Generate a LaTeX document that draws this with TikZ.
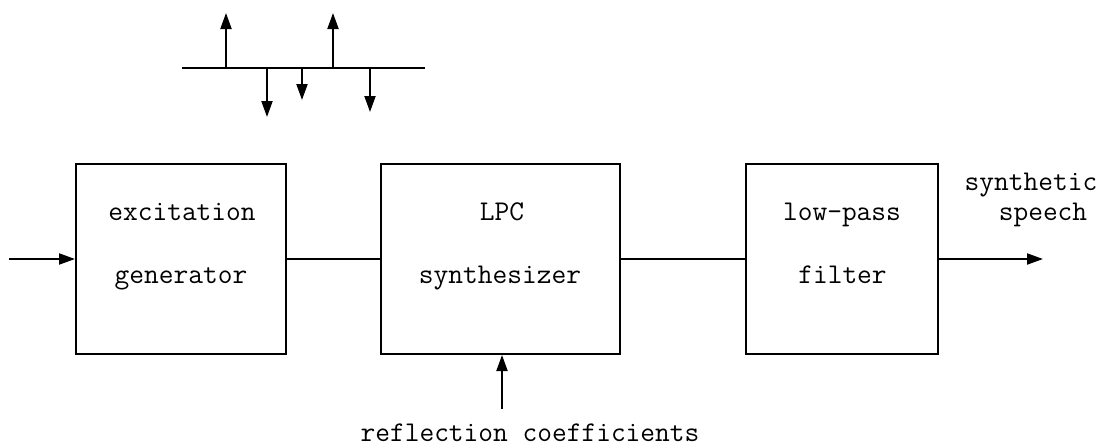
\documentclass[tikz,border=0pt]{standalone}
\usepackage{fontspec}
\usetikzlibrary{arrows.meta}
\begin{document}
\begin{tikzpicture}[x=1pt,y=-1pt,
  line width=2pt,
  blk/.style={draw, minimum width=#1, minimum height=190pt, inner sep=0pt},
  lbl/.style={anchor=base, inner sep=0pt, font=\fontsize{28.6}{30}\selectfont\ttfamily},
  arr/.style={-{Triangle[length=16pt,width=11pt]}}]
\useasboundingbox (0,0) rectangle (1107,447);
% blocks
\node[blk=210pt] (b1) at (181,259) {};
\node[blk=239pt] (b2) at (500.5,259) {};
\node[blk=192pt] (b3) at (842,259) {};
% labels
\node[lbl] (t1a) at (182,220) {excitation};
\node[lbl] (t1b) at (181,283) {generator};
\node[lbl] (t2a) at (502,220) {LPC};
\node[lbl] (t2b) at (500,283) {synthesizer};
\node[lbl] (t3a) at (842,220) {low-pass};
\node[lbl] (t3b) at (842.5,283) {filter};
\node[lbl] (out1) at (1031,190) {synthetic};
\node[lbl] (out2) at (1043,220) {speech};
\node[lbl] (refl) at (530,441) {reflection coefficients};
% connectors
\coordinate (in) at (9,259);
\coordinate (outend) at (1043,259);
\coordinate (rc) at (502,409);
\draw[arr] (in) -- (b1.west);
\draw (b1.east) -- (b2.west);
\draw (b2.east) -- (b3.west);
\draw[arr] (b3.east) -- (outend);
\draw[arr] (rc) -- (rc |- b2.south);
% pulse train
\coordinate (axl) at (182,68);
\coordinate (axr) at (425,68);
\draw (axl) -- (axr);
\coordinate (p1) at (226,13);
\coordinate (p2) at (267,117);
\coordinate (p3) at (302,100);
\coordinate (p4) at (333,13);
\coordinate (p5) at (370,112);
\foreach \p in {p1,p2,p3,p4,p5}
  \draw[arr] (\p |- axl) -- (\p);
\end{tikzpicture}
\end{document}
